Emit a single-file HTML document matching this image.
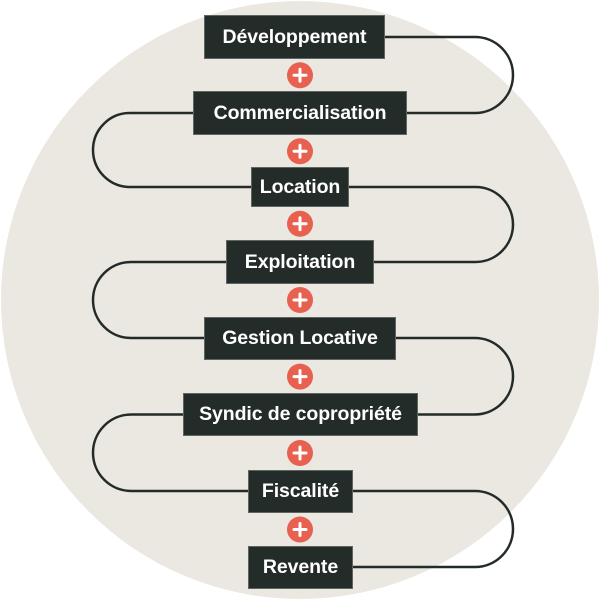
<!DOCTYPE html>
<html>
<head>
<meta charset="utf-8">
<style>
  html,body{margin:0;padding:0;background:#ffffff;}
  #wrap{position:relative;width:600px;height:600px;overflow:hidden;background:#ffffff;}
  svg{position:absolute;left:0;top:0;}
  .box{position:absolute;background:#242c2a;border:1px solid #5f6561;box-sizing:border-box;
       color:#ffffff;font-family:"Liberation Sans",Arial,sans-serif;font-weight:bold;font-size:19.5px;
       display:flex;align-items:center;justify-content:center;white-space:nowrap;letter-spacing:-0.1px;}
</style>
</head>
<body>
<div id="wrap">
<svg width="600" height="600" viewBox="0 0 600 600" xmlns="http://www.w3.org/2000/svg">
  <circle cx="300" cy="300" r="299" fill="#ebe8e1"/>
  <path d="M300 37 H475 A38 38 0 0 1 475 113
           H130 A37 37 0 0 0 130 187
           H475.5 A37.5 37.5 0 0 1 475.5 262
           H131 A38 38 0 0 0 131 338
           H474.75 A38.25 38.25 0 0 1 474.75 414.5
           H131.25 A38.25 38.25 0 0 0 131.25 491
           H475 A38 38 0 0 1 475 567 H300"
        fill="none" stroke="#232b29" stroke-width="2.5"/>
  <g>
    <circle cx="300" cy="75.3" r="13" fill="#e8604f"/>
    <circle cx="300" cy="151.3" r="13" fill="#e8604f"/>
    <circle cx="300" cy="223.8" r="13" fill="#e8604f"/>
    <circle cx="300" cy="300" r="13" fill="#e8604f"/>
    <circle cx="300" cy="376.6" r="13" fill="#e8604f"/>
    <circle cx="300" cy="453" r="13" fill="#e8604f"/>
    <circle cx="300" cy="529.5" r="13" fill="#e8604f"/>
  </g>
  <g stroke="#ffffff" stroke-width="3" stroke-linecap="round">
    <path d="M294 75.3 H306 M300 69.3 V81.3"/>
    <path d="M294 151.3 H306 M300 145.3 V157.3"/>
    <path d="M294 223.8 H306 M300 217.8 V229.8"/>
    <path d="M294 300 H306 M300 294 V306"/>
    <path d="M294 376.6 H306 M300 370.6 V382.6"/>
    <path d="M294 453 H306 M300 447 V459"/>
    <path d="M294 529.5 H306 M300 523.5 V535.5"/>
  </g>
</svg>
<div class="box" style="left:204px;top:15px;width:181px;height:44px;">Développement</div>
<div class="box" style="left:193px;top:91px;width:214px;height:44px;">Commercialisation</div>
<div class="box" style="left:251px;top:167px;width:98px;height:40px;">Location</div>
<div class="box" style="left:226px;top:240px;width:148px;height:44px;">Exploitation</div>
<div class="box" style="left:204px;top:317px;width:192px;height:43px;">Gestion Locative</div>
<div class="box" style="left:183px;top:393px;width:235px;height:43px;">Syndic de copropriété</div>
<div class="box" style="left:248px;top:470px;width:105px;height:43px;">Fiscalité</div>
<div class="box" style="left:248px;top:546px;width:105px;height:43px;">Revente</div>
</div>
</body>
</html>
